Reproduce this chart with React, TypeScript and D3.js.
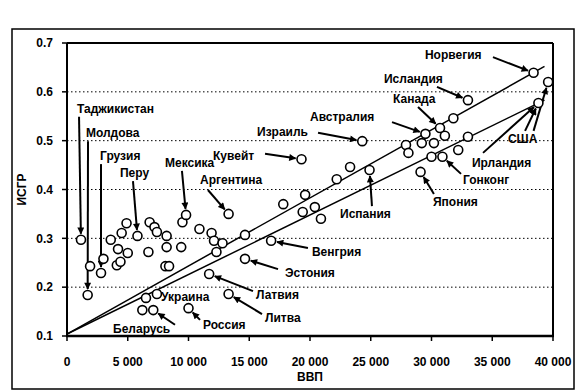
import * as d3 from "d3";

// ВВП на душу населения и ИСГР по странам
const gdp = [
  1150, 1700, 1900, 2800, 3000, 3600, 4200, 4100, 4400, 5000, 4500, 4900, 5800,
  6700, 6800, 7200, 7400, 8200, 8200, 8100, 8400, 9400, 9500, 9800, 10900, 11900,
  12100, 12800, 12300, 14650, 13300, 19300, 16800, 14650, 11700, 13300, 10000,
  6500, 7400, 6200, 7100, 17800, 19600, 19400, 20400, 20900, 24300, 23300, 24900,
  22200, 38400, 39600, 38800, 33000, 31800, 30700, 31100, 29500, 29200, 30200,
  27900, 28100, 32200, 33000, 30000, 30900, 29100,
];
const isgr = [
  0.297, 0.184, 0.243, 0.229, 0.258, 0.297, 0.278, 0.245, 0.252, 0.27, 0.311,
  0.331, 0.305, 0.272, 0.333, 0.323, 0.313, 0.305, 0.282, 0.243, 0.243, 0.282,
  0.333, 0.348, 0.319, 0.311, 0.295, 0.29, 0.272, 0.307, 0.35, 0.462, 0.295,
  0.258, 0.227, 0.186, 0.157, 0.178, 0.186, 0.153, 0.153, 0.37, 0.389, 0.354,
  0.364, 0.34, 0.499, 0.446, 0.44, 0.421, 0.639, 0.62, 0.577, 0.583, 0.546,
  0.526, 0.51, 0.514, 0.495, 0.495, 0.491, 0.475, 0.481, 0.508, 0.467, 0.467,
  0.436,
];

// две линии тренда
const trendGdp = [0, 39300];
const trendUpper = [0.104, 0.652];
const trendLower = [0.104, 0.583];

const xTicks = [0, 5000, 10000, 15000, 20000, 25000, 30000, 35000, 40000];
const xTickLabels = ["0", "5 000", "10 000", "15 000", "20 000", "25 000", "30 000", "35 000", "40 000"];
const yTicks = [0.1, 0.2, 0.3, 0.4, 0.5, 0.6, 0.7];
const yTickLabels = ["0.1", "0.2", "0.3", "0.4", "0.5", "0.6", "0.7"];
const gridLevels = [0.2, 0.3, 0.4, 0.5, 0.6];

// подписи стран: положение подписи, начало стрелки, цель (в единицах осей)
const labels = [
  { text: "Таджикистан", x: 820, y: 0.565, arrows: [[990, 0.549, 1150, 0.297]] },
  { text: "Молдова", x: 1560, y: 0.516, arrows: [[1730, 0.499, 1700, 0.184]] },
  { text: "Грузия", x: 2720, y: 0.469, arrows: [[2800, 0.452, 2800, 0.229]] },
  { text: "Перу", x: 4360, y: 0.434, arrows: [[5430, 0.417, 5800, 0.305]] },
  { text: "Мексика", x: 8070, y: 0.454, arrows: [[9460, 0.438, 9800, 0.348]] },
  { text: "Аргентина", x: 10950, y: 0.419, arrows: [[11600, 0.399, 13300, 0.35]] },
  { text: "Кувейт", x: 12020, y: 0.469, arrows: [[16300, 0.473, 19300, 0.462]] },
  { text: "Израиль", x: 15640, y: 0.518, arrows: [[20660, 0.516, 24300, 0.499]] },
  { text: "Австралия", x: 20000, y: 0.549, arrows: [[26750, 0.538, 29500, 0.514]] },
  { text: "Канада", x: 26830, y: 0.585, arrows: [[28890, 0.569, 30700, 0.526]] },
  { text: "Исландия", x: 26090, y: 0.626, arrows: [[30450, 0.61, 33000, 0.583]] },
  { text: "Норвегия", x: 29460, y: 0.675, arrows: [[35060, 0.671, 38400, 0.639]] },
  { text: "США", x: 36290, y: 0.503, arrows: [[37700, 0.52, 38800, 0.577], [38400, 0.52, 39600, 0.62]] },
  { text: "Ирландия", x: 33330, y: 0.454, arrows: [[34240, 0.475, 38800, 0.577]] },
  { text: "Гонконг", x: 32590, y: 0.419, arrows: [[32430, 0.432, 30900, 0.467]] },
  { text: "Япония", x: 30120, y: 0.374, arrows: [[30200, 0.391, 29100, 0.436]] },
  { text: "Испания", x: 22470, y: 0.35, arrows: [[25100, 0.366, 24900, 0.44]] },
  { text: "Венгрия", x: 20160, y: 0.272, arrows: [[19830, 0.28, 16800, 0.295]] },
  { text: "Эстония", x: 17940, y: 0.229, arrows: [[17370, 0.237, 14650, 0.258]] },
  { text: "Латвия", x: 15550, y: 0.184, arrows: [[15310, 0.192, 11700, 0.227]] },
  { text: "Литва", x: 16300, y: 0.137, arrows: [[16050, 0.145, 13300, 0.186]] },
  { text: "Россия", x: 11190, y: 0.123, arrows: [[10950, 0.133, 10000, 0.157]] },
  { text: "Украина", x: 7740, y: 0.18, arrows: [] },
  { text: "Беларусь", x: 3790, y: 0.114, arrows: [[8890, 0.123, 7100, 0.153]] },
];

const width = 579;
const height = 391;
const marginLeft = 67;
const marginRight = 26;
const marginTop = 43;
const marginBottom = 55;
const r = 4.5;
const font = "'Liberation Sans', Arial, sans-serif";

export default function App() {
  const x = d3.scaleLinear().domain([0, 40000]).range([marginLeft, width - marginRight]);
  const y = d3.scaleLinear().domain([0.1, 0.7]).range([height - marginBottom, marginTop]);

  const line = d3.line<[number, number]>().x(d => x(d[0])).y(d => y(d[1]));
  const upper = trendGdp.map((g, i) => [g, trendUpper[i]] as [number, number]);
  const lower = trendGdp.map((g, i) => [g, trendLower[i]] as [number, number]);

  // стрелка заканчивается у края кружка
  const arrowPath = (a: number[]) => {
    const x1 = x(a[0]), y1 = y(a[1]), x2 = x(a[2]), y2 = y(a[3]);
    const len = Math.hypot(x2 - x1, y2 - y1);
    const k = (len - r - 1.5) / len;
    return `M${x1},${y1}L${x1 + (x2 - x1) * k},${y1 + (y2 - y1) * k}`;
  };

  const [x0, x1] = x.range();
  const [yb, yt] = y.range();

  return (
    <div style={{ position: "absolute", left: 0, top: 0 }}>
      <svg width={width} height={height} style={{ display: "block", background: "#fff" }} fontFamily={font}>
        <defs>
          <marker id="arr" viewBox="0 0 10 10" refX={9} refY={5} markerWidth={8} markerHeight={7}
            markerUnits="userSpaceOnUse" orient="auto">
            <path d="M0,0L10,5L0,10z" fill="#000" />
          </marker>
        </defs>

        <rect x={12} y={29} width={562} height={360} fill="none" stroke="#000" strokeWidth={1.5} />

        {gridLevels.map(v => (
          <line key={v} x1={x0} x2={x1} y1={y(v)} y2={y(v)} stroke="#000" strokeWidth={1} strokeDasharray="1.5,2.5" />
        ))}

        {/* рамка области построения */}
        <line x1={x0} x2={x1} y1={yt} y2={yt} stroke="#000" strokeWidth={2} />
        <line x1={x1} x2={x1} y1={yt} y2={yb} stroke="#000" strokeWidth={2} />
        <line x1={x0} x2={x0} y1={yt} y2={yb} stroke="#000" strokeWidth={2} />
        <line x1={x0 - 1} x2={x1 + 1} y1={yb} y2={yb} stroke="#000" strokeWidth={2.5} />

        {yTicks.map((v, i) => (
          <g key={v} transform={`translate(${x0},${y(v)})`}>
            <line x1={-5} x2={0} stroke="#000" strokeWidth={1.5} />
            <text x={-14} dy="0.35em" textAnchor="end" fontSize={12} fontWeight="bold">{yTickLabels[i]}</text>
          </g>
        ))}
        {xTicks.map((v, i) => (
          <g key={v} transform={`translate(${x(v)},${yb})`}>
            <line y1={0} y2={5} stroke="#000" strokeWidth={1.5} />
            <text y={26} dy="0.35em" textAnchor="middle" fontSize={12} fontWeight="bold">{xTickLabels[i]}</text>
          </g>
        ))}

        <text x={(x0 + x1) / 2} y={377} dy="0.35em" textAnchor="middle" fontSize={12} fontWeight="bold">ВВП</text>
        <text transform={`translate(22,${(yt + yb) / 2}) rotate(-90)`} dy="0.35em" textAnchor="middle"
          fontSize={12} fontWeight="bold">ИСГР</text>

        <path d={line(upper) ?? ""} fill="none" stroke="#000" strokeWidth={1.5} />
        <path d={line(lower) ?? ""} fill="none" stroke="#000" strokeWidth={1.5} />

        {labels.flatMap(l => l.arrows.map((a, j) => (
          <path key={l.text + j} d={arrowPath(a)} stroke="#000" strokeWidth={2} fill="none" markerEnd="url(#arr)" />
        )))}

        {gdp.map((g, i) => (
          <circle key={i} cx={x(g)} cy={y(isgr[i])} r={r} fill="#fff" stroke="#000" strokeWidth={1.6} />
        ))}

        {labels.map(l => (
          <text key={l.text} x={x(l.x)} y={y(l.y)} dy="0.35em" fontSize={12} fontWeight="bold">{l.text}</text>
        ))}
      </svg>
    </div>
  );
}
